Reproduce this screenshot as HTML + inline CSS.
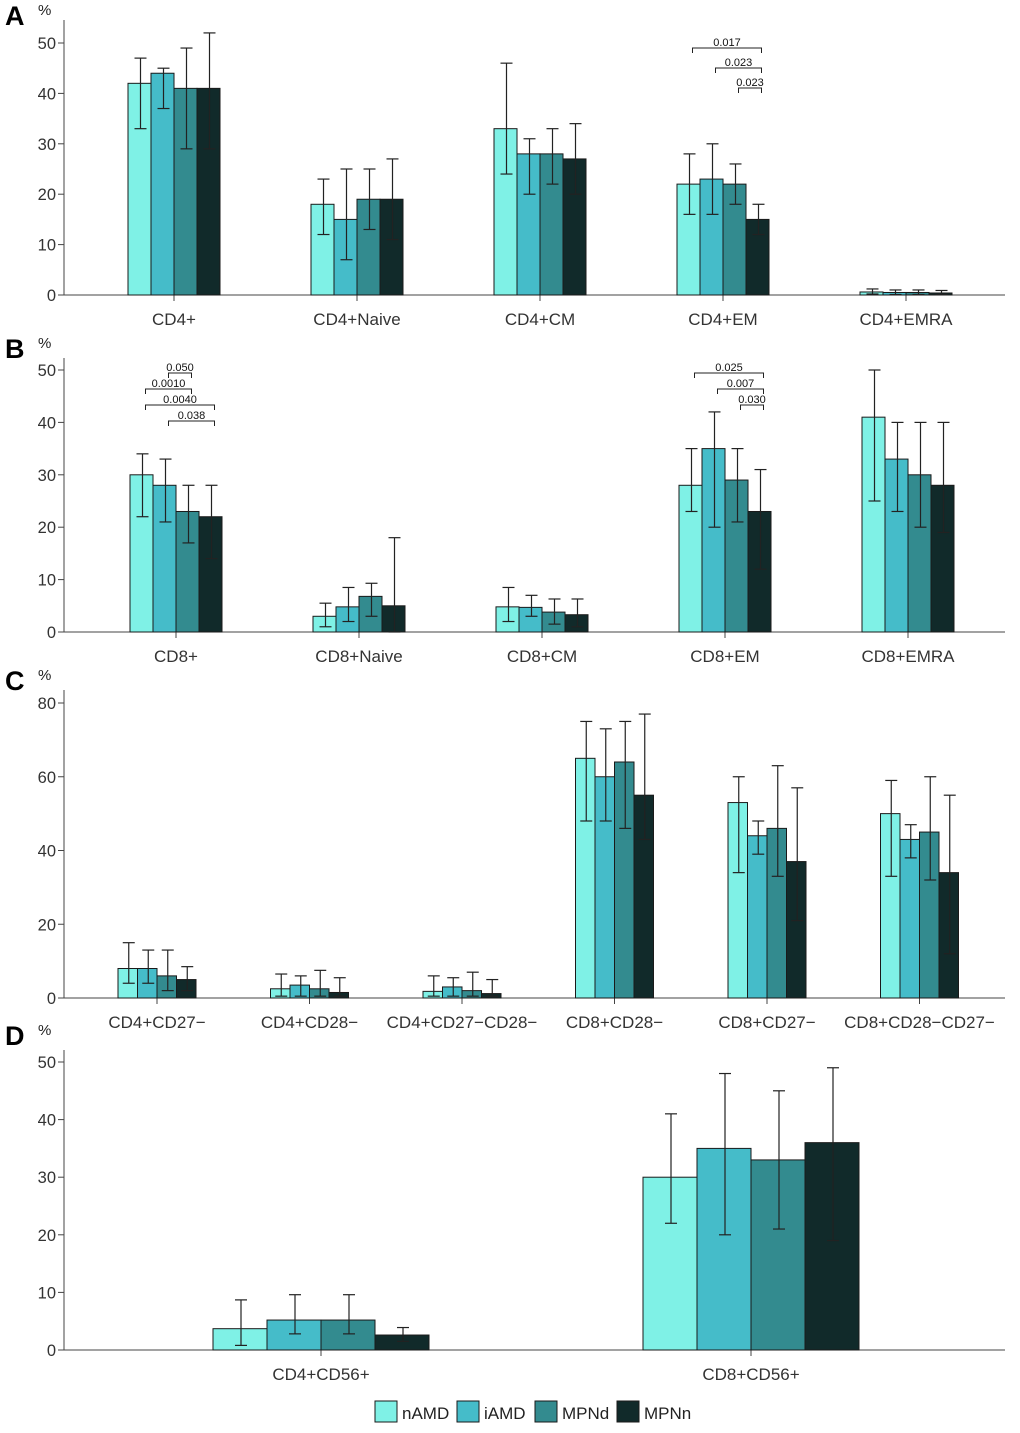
<!DOCTYPE html>
<html><head><meta charset="utf-8">
<style>
body{margin:0;background:#fff;}
svg text{font-family:"Liberation Sans",Arial,sans-serif;}
</style></head>
<body>
<svg id="chart" width="1020" height="1428" xmlns="http://www.w3.org/2000/svg"></svg>
<script>
const series = ["nAMD","iAMD","MPNd","MPNn"];
const colors = ["#7ff1e6","#45bcc9","#338b8f","#112a2a"];

const catsA = ["CD4+","CD4+Naive","CD4+CM","CD4+EM","CD4+EMRA"];
const valsA = [[42,44,41,41],[18,15,19,19],[33,28,28,27],[22,23,22,15],[0.6,0.5,0.5,0.4]];
const loA = [[33,37,29,29],[12,7,13,11],[24,20,22,20],[16,16,18,12],[0.2,0.1,0.1,0.1]];
const hiA = [[47,45,49,52],[23,25,25,27],[46,31,33,34],[28,30,26,18],[1.2,1,1,0.9]];
const ticksA = [0,10,20,30,40,50];

const catsB = ["CD8+","CD8+Naive","CD8+CM","CD8+EM","CD8+EMRA"];
const valsB = [[30,28,23,22],[3,4.8,6.8,5],[4.8,4.7,3.8,3.3],[28,35,29,23],[41,33,30,28]];
const loB = [[22,21,17,14],[1,2,3,0],[2,3,1.5,1],[23,20,21,12],[25,23,20,19]];
const hiB = [[34,33,28,28],[5.5,8.5,9.3,18],[8.5,7,6.3,6.3],[35,42,35,31],[50,40,40,40]];
const ticksB = [0,10,20,30,40,50];

const catsC = ["CD4+CD27−","CD4+CD28−","CD4+CD27−CD28−","CD8+CD28−","CD8+CD27−","CD8+CD28−CD27−"];
const valsC = [[8,8,6,5],[2.5,3.5,2.5,1.5],[1.8,3,2,1.2],[65,60,64,55],[53,44,46,37],[50,43,45,34]];
const loC = [[4,4,2,2],[0.5,0.5,0.5,0.5],[0.5,0.5,0.5,0.5],[48,48,46,43],[34,39,33,21],[33,38,32,12]];
const hiC = [[15,13,13,8.5],[6.5,6,7.5,5.5],[6,5.5,7,5],[75,73,75,77],[60,48,63,57],[59,47,60,55]];
const ticksC = [0,20,40,60,80];

const catsD = ["CD4+CD56+","CD8+CD56+"];
const valsD = [[3.7,5.2,5.2,2.6],[30,35,33,36]];
const loD = [[0.8,2.8,2.8,1.5],[22,20,21,19]];
const hiD = [[8.7,9.6,9.6,3.9],[41,48,45,49]];
const ticksD = [0,10,20,30,40,50];

// significance: [groupIndex, fromBar, toBar, label, level]
const sigA = [[3,0,3,"0.017",0],[3,1,3,"0.023",1],[3,2,3,"0.023",2]];
const sigB = [[0,1,2,"0.050",0],[0,0,2,"0.0010",1],[0,0,3,"0.0040",2],[0,1,3,"0.038",3],
              [3,0,3,"0.025",0],[3,1,3,"0.007",1],[3,2,3,"0.030",2]];

const NS="http://www.w3.org/2000/svg";
const svg=document.getElementById('chart');
function mk(t,a,p){const e=document.createElementNS(NS,t);for(const k in a)e.setAttribute(k,a[k]);(p||svg).appendChild(e);return e;}

function panel(o){
  const g=mk('g',{});
  
  
  const y=v=>o.y0-(v/o.max)*(o.y0-o.yTop);
  const gx=i=>o.c0+i*o.step;
  const lt=mk('text',{x:5,y:o.letterY,'font-size':27,'font-weight':'bold',fill:'#000'},g);
  lt.textContent=o.letter;
  
  
  const pc=mk('text',{x:38,y:o.letterY-10,'font-size':15,fill:'#222'},g);
  pc.textContent='%';
  
  
  const ya=mk('line',{x1:64,x2:64,y1:o.axTop,y2:o.y0,stroke:'#444','stroke-width':1},g);
  
  
  const xa=mk('line',{x1:58,x2:1005,y1:o.y0,y2:o.y0,stroke:'#444','stroke-width':1},g);
  
  
  o.ticks.forEach(t=>{
    mk('line',{x1:58,x2:64,y1:y(t),y2:y(t),stroke:'#444'},g);
    const tx=mk('text',{x:56,y:y(t)+6,'font-size':16.5,fill:'#333','text-anchor':'end'},g);
    tx.textContent=t;
    
    
  });
  o.cats.forEach((c,i)=>{
    const cx=gx(i);
    mk('line',{x1:cx,x2:cx,y1:o.y0,y2:o.y0+6,stroke:'#444'},g);
    const tx=mk('text',{x:cx,y:o.y0+30,'font-size':17,fill:'#333','text-anchor':'middle'},g);
    tx.textContent=c;
    
    
    const left=cx-2*o.bw;
    o.vals[i].forEach((v,j)=>{
      const bx=left+j*o.bw;
      const r=mk('rect',{x:bx,y:y(v),width:o.bw,height:o.y0-y(v),fill:colors[j],stroke:'#1a1a1a','stroke-width':1},g);
      
      
      const mx=bx+o.bw/2+1;
      const eb=mk('g',{stroke:'#222','stroke-width':1.2},g);
      
      
      mk('line',{x1:mx,x2:mx,y1:y(o.lo[i][j]),y2:y(o.hi[i][j])},eb);
      mk('line',{x1:mx-6,x2:mx+6,y1:y(o.lo[i][j]),y2:y(o.lo[i][j])},eb);
      mk('line',{x1:mx-6,x2:mx+6,y1:y(o.hi[i][j]),y2:y(o.hi[i][j])},eb);
    });
  });
  (o.sig||[]).forEach(s=>{
    const left=gx(s[0])-2*o.bw;
    const x1=left+s[1]*o.bw+o.bw/2+4, x2=left+s[2]*o.bw+o.bw/2+4;
    const yy=o.sigTop+s[4]*o.sigStep;
    const bg=mk('g',{stroke:'#222','stroke-width':1,fill:'none'},g);
    
    
    mk('path',{d:`M${x1},${yy+5}V${yy}H${x2}V${yy+5}`},bg);
    const tx=mk('text',{x:(x1+x2)/2,y:yy-2,'font-size':11,fill:'#111','text-anchor':'middle'},g);
    tx.textContent=s[3];
    
    
  });
}

panel({letter:'A',letterY:25,axTop:20,y0:295,yTop:43,max:50,ticks:ticksA,cats:catsA,vals:valsA,lo:loA,hi:hiA,c0:174,step:183,bw:23,sig:sigA,sigTop:48,sigStep:20});
panel({letter:'B',letterY:358,axTop:358,y0:632,yTop:370,max:50,ticks:ticksB,cats:catsB,vals:valsB,lo:loB,hi:hiB,c0:176,step:183,bw:23,sig:sigB,sigTop:373,sigStep:16});
panel({letter:'C',letterY:690,axTop:690,y0:998,yTop:703,max:80,ticks:ticksC,cats:catsC,vals:valsC,lo:loC,hi:hiC,c0:157,step:152.5,bw:19.5});
panel({letter:'D',letterY:1045,axTop:1050,y0:1350,yTop:1062,max:50,ticks:ticksD,cats:catsD,vals:valsD,lo:loD,hi:hiD,c0:321,step:430,bw:54});

// legend
const lg=mk('g',{});


const lx=[375,457,535,617];
series.forEach((s,j)=>{
  const e=mk('g',{},lg);
  
  
  mk('rect',{x:lx[j],y:1401,width:22,height:21,fill:colors[j],stroke:'#1a1a1a'},e);
  const t=mk('text',{x:lx[j]+27,y:1419,'font-size':17,fill:'#222'},e);
  t.textContent=s;
});
</script>
</body></html>
